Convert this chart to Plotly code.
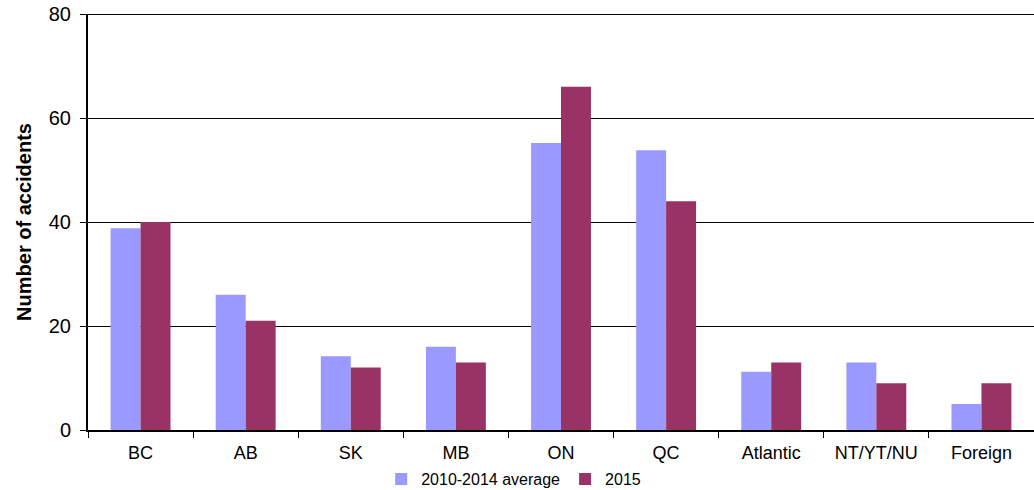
import plotly.graph_objects as go

regions = ["BC", "AB", "SK", "MB", "ON", "QC", "Atlantic", "NT/YT/NU", "Foreign"]
avg_2010_2014 = [38.8, 26, 14.2, 16, 55.2, 53.8, 11.2, 13, 5]
year_2015 = [40, 21, 12, 13, 66, 44, 13, 9, 9]

FONT = "Liberation Sans, Arial, sans-serif"

fig = go.Figure()
fig.add_trace(go.Bar(
    x=regions, y=avg_2010_2014, name="2010-2014 average",
    marker=dict(color="#9999FF", line=dict(width=0)),
))
fig.add_trace(go.Bar(
    x=regions, y=year_2015, name="2015",
    marker=dict(color="#993366", line=dict(width=0)),
))

fig.update_layout(
    width=1034, height=490,
    margin=dict(l=88, r=0, t=14, b=60, autoexpand=False),
    paper_bgcolor="white", plot_bgcolor="white",
    barmode="group", bargap=0.43, bargroupgap=0,
    font=dict(family=FONT, size=16, color="black"),
    showlegend=True,
    legend=dict(
        orientation="h", x=0.45, xanchor="center",
        yref="container", y=0.022, yanchor="middle",
        font=dict(size=16), itemwidth=30, tracegroupgap=0,
    ),
    xaxis=dict(
        type="category", showline=True, linecolor="black", linewidth=2,
        ticks="outside", tickson="boundaries", ticklen=6, tickcolor="black",
        showgrid=False, tickfont=dict(size=18), automargin=False,
        ticklabelstandoff=5,
    ),
    yaxis=dict(
        range=[0, 80], dtick=20, showline=True, linecolor="black", linewidth=2,
        ticks="outside", ticklen=6, tickcolor="black",
        showgrid=True, gridcolor="black", gridwidth=1,
        tickfont=dict(size=20), zeroline=False, automargin=False,
        ticklabelstandoff=5,
        title=dict(text="<b>Number of accidents</b>", font=dict(size=20), standoff=12),
    ),
)

# heavier frame line along the top of the value axis
fig.add_shape(type="line", xref="paper", yref="y", x0=0, x1=1, y0=80, y1=80,
              line=dict(color="black", width=2), layer="above")

fig.write_html("out.html")
